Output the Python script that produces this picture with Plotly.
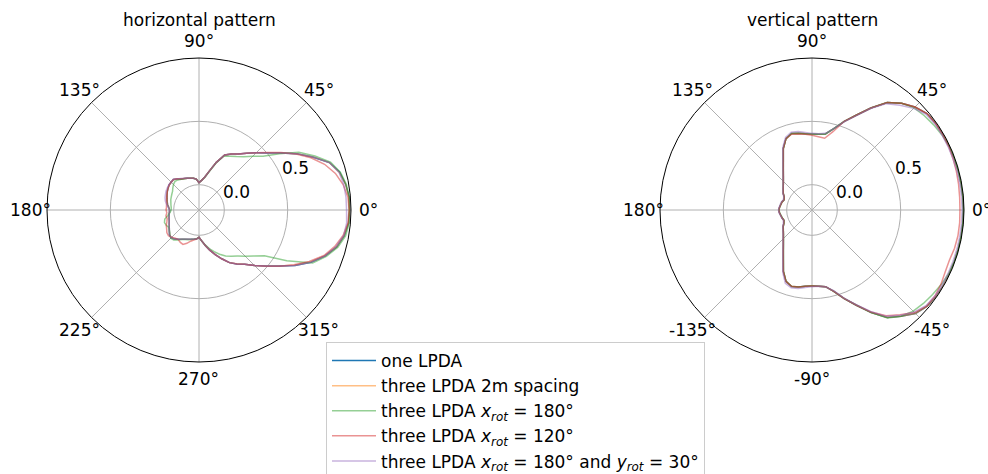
import math
import plotly.graph_objects as go

# ---- horizontal pattern: azimuth 0..355 deg in 5 deg steps ----
H_THETA = list(range(0, 360, 5))

H_ONE = [
    0.99, 0.99, 0.975, 0.95, 0.895, 0.79, 0.69, 0.585, 0.50, 0.44,
    0.385, 0.34, 0.31, 0.28, 0.20, 0.12, 0.065, 0.035, 0.016, 0.045,
    0.055, 0.06, 0.066, 0.074, 0.083, 0.099, 0.115, 0.11, 0.108, 0.098,
    0.089, 0.078, 0.068, 0.06, 0.052, 0.04, 0.032, 0.035, 0.04, 0.045,
    0.05, 0.06, 0.071, 0.086, 0.104, 0.11, 0.10, 0.083, 0.067, 0.055,
    0.046, 0.04, 0.035, 0.03, 0.016, 0.045, 0.085, 0.128, 0.175, 0.225,
    0.28, 0.32, 0.36, 0.42, 0.488, 0.571, 0.675, 0.775, 0.86, 0.925,
    0.965, 0.985,
]
H_TWO_M = [
    0.99, 0.988, 0.975, 0.948, 0.895, 0.792, 0.69, 0.585, 0.502, 0.44,
    0.385, 0.34, 0.31, 0.28, 0.20, 0.12, 0.065, 0.035, 0.016, 0.045,
    0.055, 0.06, 0.066, 0.074, 0.083, 0.099, 0.113, 0.11, 0.106, 0.098,
    0.089, 0.078, 0.068, 0.06, 0.052, 0.04, 0.033, 0.035, 0.04, 0.045,
    0.05, 0.06, 0.071, 0.086, 0.102, 0.11, 0.10, 0.083, 0.067, 0.055,
    0.046, 0.04, 0.035, 0.03, 0.016, 0.045, 0.085, 0.128, 0.175, 0.225,
    0.28, 0.318, 0.358, 0.42, 0.488, 0.571, 0.672, 0.772, 0.858, 0.925,
    0.963, 0.985,
]
H_XROT180 = [
    0.985, 0.99, 0.98, 0.955, 0.905, 0.81, 0.71, 0.575, 0.46, 0.40,
    0.35, 0.315, 0.29, 0.27, 0.195, 0.115, 0.06, 0.035, 0.016, 0.045,
    0.055, 0.06, 0.066, 0.072, 0.08, 0.09, 0.095, 0.085, 0.07, 0.055,
    0.048, 0.042, 0.037, 0.03, 0.025, 0.02, 0.02, 0.03, 0.05, 0.08,
    0.09, 0.085, 0.075, 0.085, 0.10, 0.115, 0.11, 0.09, 0.07, 0.058,
    0.05, 0.042, 0.035, 0.028, 0.016, 0.045, 0.08, 0.115, 0.15, 0.185,
    0.22, 0.245, 0.275, 0.315, 0.365, 0.43, 0.60, 0.79, 0.87, 0.935,
    0.975, 0.99,
]
H_XROT120 = [
    0.985, 0.98, 0.955, 0.915, 0.855, 0.775, 0.685, 0.59, 0.505, 0.44,
    0.385, 0.34, 0.31, 0.28, 0.20, 0.12, 0.065, 0.035, 0.016, 0.045,
    0.055, 0.06, 0.066, 0.074, 0.085, 0.10, 0.115, 0.112, 0.108, 0.10,
    0.09, 0.08, 0.072, 0.065, 0.06, 0.058, 0.06, 0.055, 0.065, 0.06,
    0.07, 0.085, 0.095, 0.11, 0.115, 0.105, 0.09, 0.085, 0.095, 0.10,
    0.08, 0.055, 0.04, 0.03, 0.016, 0.045, 0.085, 0.128, 0.175, 0.225,
    0.28, 0.32, 0.36, 0.42, 0.49, 0.575, 0.665, 0.76, 0.85, 0.91,
    0.955, 0.98,
]
H_XROT180_YROT30 = [
    0.965, 0.965, 0.96, 0.945, 0.895, 0.79, 0.69, 0.585, 0.50, 0.44,
    0.385, 0.34, 0.31, 0.28, 0.20, 0.12, 0.065, 0.035, 0.016, 0.045,
    0.055, 0.06, 0.068, 0.076, 0.088, 0.10, 0.115, 0.112, 0.11, 0.105,
    0.10, 0.092, 0.085, 0.075, 0.06, 0.045, 0.035, 0.035, 0.04, 0.045,
    0.05, 0.06, 0.071, 0.086, 0.104, 0.11, 0.10, 0.083, 0.067, 0.055,
    0.046, 0.04, 0.035, 0.03, 0.016, 0.045, 0.085, 0.128, 0.175, 0.225,
    0.28, 0.32, 0.36, 0.42, 0.488, 0.571, 0.675, 0.775, 0.86, 0.92,
    0.96, 0.97,
]

# ---- vertical pattern: elevation -180..175 deg in 5 deg steps ----
V_THETA = list(range(-180, 180, 5))

V_ONE = [
    0.062, 0.058, 0.05, 0.044, 0.036, 0.045, 0.063, 0.077, 0.095, 0.12,
    0.152, 0.195, 0.253, 0.335, 0.40, 0.425, 0.418, 0.405, 0.40, 0.405,
    0.415, 0.465, 0.545, 0.63, 0.735, 0.835, 0.895, 0.955, 0.985, 0.993,
    0.995, 0.995, 0.995, 0.995, 0.995, 0.995, 0.995, 0.995, 0.995, 0.995,
    0.995, 0.995, 0.995, 0.993, 0.985, 0.95, 0.90, 0.835, 0.73, 0.625,
    0.545, 0.465, 0.41, 0.40, 0.40, 0.405, 0.415, 0.425, 0.40, 0.336,
    0.253, 0.195, 0.152, 0.12, 0.096, 0.077, 0.062, 0.042, 0.035, 0.045,
    0.05, 0.057,
]
V_TWO_M = [
    0.062, 0.058, 0.05, 0.044, 0.037, 0.045, 0.063, 0.077, 0.095, 0.12,
    0.152, 0.195, 0.253, 0.335, 0.40, 0.425, 0.42, 0.405, 0.40, 0.405,
    0.415, 0.465, 0.545, 0.63, 0.735, 0.835, 0.895, 0.955, 0.985, 0.993,
    0.995, 0.995, 0.995, 0.995, 0.995, 0.995, 0.995, 0.995, 0.995, 0.995,
    0.995, 0.995, 0.995, 0.993, 0.985, 0.95, 0.90, 0.835, 0.73, 0.625,
    0.545, 0.465, 0.41, 0.40, 0.40, 0.405, 0.415, 0.425, 0.40, 0.336,
    0.253, 0.195, 0.152, 0.12, 0.096, 0.077, 0.062, 0.043, 0.035, 0.045,
    0.05, 0.057,
]
V_XROT180 = [
    0.06, 0.056, 0.048, 0.042, 0.035, 0.044, 0.062, 0.076, 0.094, 0.118,
    0.15, 0.193, 0.25, 0.332, 0.398, 0.423, 0.418, 0.405, 0.40, 0.405,
    0.415, 0.465, 0.545, 0.63, 0.735, 0.84, 0.895, 0.93, 0.948, 0.962,
    0.978, 0.99, 0.995, 0.995, 0.995, 0.995, 0.995, 0.995, 0.995, 0.995,
    0.995, 0.995, 0.985, 0.972, 0.958, 0.94, 0.90, 0.835, 0.73, 0.625,
    0.545, 0.465, 0.41, 0.40, 0.40, 0.405, 0.415, 0.425, 0.40, 0.336,
    0.253, 0.195, 0.152, 0.12, 0.096, 0.077, 0.062, 0.042, 0.035, 0.045,
    0.05, 0.056,
]
V_XROT120 = [
    0.062, 0.058, 0.05, 0.044, 0.036, 0.045, 0.063, 0.077, 0.095, 0.12,
    0.152, 0.195, 0.253, 0.335, 0.40, 0.423, 0.418, 0.405, 0.40, 0.405,
    0.415, 0.465, 0.545, 0.63, 0.73, 0.82, 0.88, 0.945, 0.98, 0.985,
    0.975, 0.96, 0.955, 0.965, 0.97, 0.97, 0.968, 0.97, 0.975, 0.98,
    0.985, 0.99, 0.99, 0.99, 0.985, 0.95, 0.90, 0.835, 0.73, 0.625,
    0.545, 0.44, 0.375, 0.38, 0.39, 0.40, 0.41, 0.42, 0.40, 0.336,
    0.253, 0.195, 0.152, 0.12, 0.096, 0.077, 0.062, 0.042, 0.035, 0.045,
    0.05, 0.057,
]
V_XROT180_YROT30 = [
    0.065, 0.06, 0.052, 0.046, 0.04, 0.05, 0.066, 0.08, 0.098, 0.123,
    0.155, 0.2, 0.26, 0.345, 0.415, 0.435, 0.43, 0.415, 0.405, 0.405,
    0.415, 0.46, 0.54, 0.625, 0.725, 0.825, 0.885, 0.94, 0.975, 0.985,
    0.985, 0.985, 0.985, 0.985, 0.985, 0.985, 0.985, 0.985, 0.985, 0.985,
    0.985, 0.985, 0.985, 0.985, 0.975, 0.935, 0.88, 0.825, 0.725, 0.62,
    0.54, 0.465, 0.415, 0.405, 0.405, 0.415, 0.43, 0.435, 0.41, 0.345,
    0.26, 0.2, 0.155, 0.123, 0.098, 0.08, 0.066, 0.046, 0.04, 0.05,
    0.054, 0.06,
]

SERIES_NAMES = [
    "one LPDA",
    "three LPDA 2m spacing",
    "three LPDA <i>x</i><sub><i>rot</i></sub> = 180°",
    "three LPDA <i>x</i><sub><i>rot</i></sub> = 120°",
    "three LPDA <i>x</i><sub><i>rot</i></sub> = 180° and <i>y</i><sub><i>rot</i></sub> = 30°",
]
SERIES_COLORS = [
    "rgba(31,119,180,1.0)",
    "rgba(255,127,14,0.5)",
    "rgba(44,160,44,0.5)",
    "rgba(214,39,40,0.5)",
    "rgba(148,103,189,0.5)",
]
H_SERIES = [H_ONE, H_TWO_M, H_XROT180, H_XROT120, H_XROT180_YROT30]
V_SERIES = [V_ONE, V_TWO_M, V_XROT180, V_XROT120, V_XROT180_YROT30]

ANG_TICKS = [0, 45, 90, 135, 180, 225, 270, 315]
H_TICKTEXT = ["0°", "45°", "90°", "135°", "180°", "225°", "270°", "315°"]
V_TICKTEXT = ["0°", "45°", "90°", "135°", "180°", "-135°", "-90°", "-45°"]
R_TICKS = [0.0, 0.5]
R_TICKTEXT = ["0.0", "0.5"]
R_RANGE = [-0.2, 1.0]
RLABEL_ANGLE = 22.5

FONT = "DejaVu Sans"
FS = 17
W, H = 988, 474
CY = 210          # polar centre height (px from top)
R_PX = 152        # polar radius in px
LABEL_R_PX = 169  # where the angular labels sit
CENTERS = {"polar": 199, "polar2": 812}


def closed(seq):
    return list(seq) + [seq[0]]


def to_paper(px, py):
    return px / W, 1 - py / H


fig = go.Figure()
for name, color, hr, vr in zip(SERIES_NAMES, SERIES_COLORS, H_SERIES, V_SERIES):
    fig.add_trace(go.Scatterpolar(
        r=closed(hr), theta=closed(H_THETA), mode="lines",
        line=dict(color=color, width=1.5), name=name, legendgroup=name,
        subplot="polar", showlegend=True,
    ))
    fig.add_trace(go.Scatterpolar(
        r=closed(vr), theta=closed(V_THETA), mode="lines",
        line=dict(color=color, width=1.5), name=name, legendgroup=name,
        subplot="polar2", showlegend=False,
    ))


def polar_layout(cx):
    return dict(
        domain=dict(x=[(cx - R_PX) / W, (cx + R_PX) / W],
                    y=[1 - (CY + R_PX) / H, 1 - (CY - R_PX) / H]),
        bgcolor="white",
        radialaxis=dict(
            range=R_RANGE, tickvals=R_TICKS, showticklabels=False,
            angle=RLABEL_ANGLE, showline=False, ticks="",
            gridcolor="#b0b0b0", gridwidth=0.8,
        ),
        angularaxis=dict(
            tickvals=ANG_TICKS, showticklabels=False,
            direction="counterclockwise", rotation=0,
            showline=True, linecolor="black", linewidth=1,
            ticks="", gridcolor="#b0b0b0", gridwidth=0.8,
        ),
    )


annotations = []
tfont = dict(family=FONT, size=FS, color="black")
for key, ticktext in (("polar", H_TICKTEXT), ("polar2", V_TICKTEXT)):
    cx = CENTERS[key]
    # angular tick labels, centred just outside the rim
    for ang, txt in zip(ANG_TICKS, ticktext):
        a = math.radians(ang)
        x, y = to_paper(cx + LABEL_R_PX * math.cos(a), CY - LABEL_R_PX * math.sin(a))
        annotations.append(dict(text=txt, x=x, y=y, xref="paper", yref="paper",
                                showarrow=False, xanchor="center", yanchor="middle",
                                font=tfont))
    # radial tick labels along the 22.5 deg ray
    scale = R_PX / (R_RANGE[1] - R_RANGE[0])
    for rv, txt in zip(R_TICKS, R_TICKTEXT):
        rp = (rv - R_RANGE[0]) * scale
        a = math.radians(RLABEL_ANGLE)
        x, y = to_paper(cx + rp * math.cos(a), CY - rp * math.sin(a) + 3)
        annotations.append(dict(text=txt, x=x, y=y, xref="paper", yref="paper",
                                showarrow=False, xanchor="left", yanchor="bottom",
                                font=tfont, borderpad=0))

for key, title in (("polar", "horizontal pattern"), ("polar2", "vertical pattern")):
    x, y = to_paper(CENTERS[key], 20)
    annotations.append(dict(text=title, x=x, y=y, xref="paper", yref="paper",
                            showarrow=False, xanchor="center", yanchor="middle",
                            font=tfont))

fig.update_layout(
    width=W, height=H,
    margin=dict(l=0, r=0, t=0, b=0, autoexpand=False),
    paper_bgcolor="white",
    font=dict(family=FONT, size=FS, color="black"),
    polar=polar_layout(CENTERS["polar"]),
    polar2=polar_layout(CENTERS["polar2"]),
    legend=dict(
        x=326 / W, y=1 - 342 / H, xanchor="left", yanchor="top",
        bgcolor="rgba(255,255,255,0.8)", bordercolor="#cccccc", borderwidth=1,
        font=dict(family=FONT, size=FS, color="black"), tracegroupgap=0,
        itemwidth=44,
    ),
    annotations=annotations,
)

fig.write_html("out.html")
